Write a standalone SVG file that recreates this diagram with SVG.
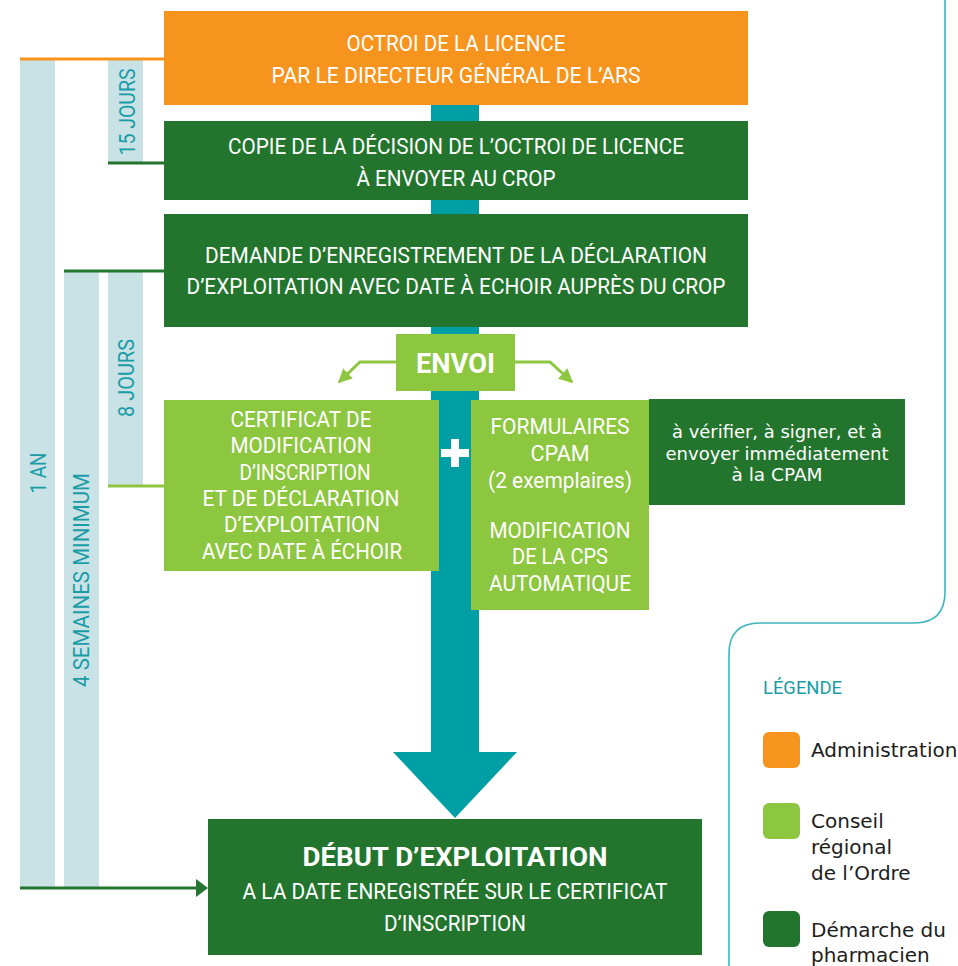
<svg xmlns="http://www.w3.org/2000/svg" width="958" height="966" viewBox="0 0 958 966">
  <defs>
    <style>
      .din { font-family: Roboto, "Open Sans", "Liberation Sans", sans-serif; font-size: 22px; fill: #ffffff; text-anchor: middle; }
      .din-b { font-family: Roboto, "Open Sans", "Liberation Sans", sans-serif; font-weight: 700; fill: #ffffff; text-anchor: middle; }
      .vlab { font-family: Roboto, "Open Sans", "Liberation Sans", sans-serif; font-size: 22px; fill: #1A9CA6; text-anchor: middle; }
      .note { font-family: "DejaVu Sans", Verdana, sans-serif; font-size: 18px; fill: #ffffff; text-anchor: middle; }
      .leg { font-family: "DejaVu Sans", Verdana, sans-serif; font-size: 20px; fill: #1d1d1b; }
      .orange { fill: #F7941D; }
      .dark { fill: #23752E; }
      .light { fill: #8DC63F; }
      .bar { fill: #C9E2E6; }
      .teal { fill: #009FA6; }
    </style>
    <marker id="tipLight" viewBox="0 0 10 10" refX="9" refY="5" markerWidth="14" markerHeight="14" markerUnits="userSpaceOnUse" orient="auto">
      <path d="M0,0 L10,5 L0,10 z" fill="#8DC63F"/>
    </marker>
  </defs>

  <!-- frame lines -->
  <path d="M945,0 V592 Q945,623 914,623 H760 Q729,623 729,654 V966" fill="none" stroke="#3DB5BD" stroke-width="1.6"/>

  <!-- duration bars -->
  <g id="durations">
    <rect class="bar" x="20" y="59" width="35" height="829"/>
    <rect class="bar" x="108" y="59" width="35" height="104"/>
    <rect class="bar" x="64" y="271" width="35" height="617"/>
    <rect class="bar" x="108" y="271" width="35" height="215"/>
    <text class="vlab" transform="translate(135,112) rotate(-90)" textLength="87" lengthAdjust="spacingAndGlyphs">15 JOURS</text>
    <text class="vlab" transform="translate(134,378) rotate(-90)" textLength="78" lengthAdjust="spacingAndGlyphs">8 JOURS</text>
    <text class="vlab" transform="translate(89,580) rotate(-90)" textLength="214" lengthAdjust="spacingAndGlyphs">4 SEMAINES MINIMUM</text>
    <text class="vlab" transform="translate(46,473) rotate(-90)" textLength="41" lengthAdjust="spacingAndGlyphs">1 AN</text>
  </g>

  <!-- connectors -->
  <g id="connectors">
    <rect class="teal" x="431" y="105" width="48" height="647"/>
    <polygon class="teal" points="393,752 517,752 455,818"/>
    <line x1="20" y1="59" x2="164" y2="59" stroke="#F7941D" stroke-width="3"/>
    <line x1="108" y1="163" x2="164" y2="163" stroke="#23752E" stroke-width="3"/>
    <line x1="64" y1="271" x2="164" y2="271" stroke="#23752E" stroke-width="3"/>
    <line x1="108" y1="486" x2="164" y2="486" stroke="#8DC63F" stroke-width="3"/>
    <line x1="20" y1="888" x2="198" y2="888" stroke="#23752E" stroke-width="3"/>
    <polygon points="196,879 208,888 196,897" fill="#23752E"/>
    <polyline points="396,362 360,362 339,382" fill="none" stroke="#8DC63F" stroke-width="3" marker-end="url(#tipLight)"/>
    <polyline points="515,362 550,362 572,382" fill="none" stroke="#8DC63F" stroke-width="3" marker-end="url(#tipLight)"/>
  </g>

  <g id="octroi">
    <rect class="orange" x="164" y="11" width="584" height="94"/>
    <text class="din" x="456" y="51" textLength="219" lengthAdjust="spacingAndGlyphs">OCTROI DE LA LICENCE</text>
    <text class="din" x="456" y="83" textLength="369" lengthAdjust="spacingAndGlyphs">PAR LE DIRECTEUR GÉNÉRAL DE L’ARS</text>
  </g>

  <g id="copie">
    <rect class="dark" x="164" y="121" width="584" height="79"/>
    <text class="din" x="456" y="154" textLength="456" lengthAdjust="spacingAndGlyphs">COPIE DE LA DÉCISION DE L’OCTROI DE LICENCE</text>
    <text class="din" x="456" y="186" textLength="199" lengthAdjust="spacingAndGlyphs">À ENVOYER AU CROP</text>
  </g>

  <g id="demande">
    <rect class="dark" x="164" y="214" width="584" height="113"/>
    <text class="din" x="456" y="263" textLength="502" lengthAdjust="spacingAndGlyphs">DEMANDE D’ENREGISTREMENT DE LA DÉCLARATION</text>
    <text class="din" x="456" y="294" textLength="539" lengthAdjust="spacingAndGlyphs">D’EXPLOITATION AVEC DATE À ECHOIR AUPRÈS DU CROP</text>
  </g>

  <g id="envoi">
    <rect class="light" x="396" y="334" width="119" height="57"/>
    <text class="din-b" x="455.5" y="373" font-size="28" textLength="79" lengthAdjust="spacingAndGlyphs">ENVOI</text>
  </g>

  <g id="certificat">
    <rect class="light" x="164" y="400" width="275" height="171"/>
    <text class="din" x="301" y="427" textLength="141" lengthAdjust="spacingAndGlyphs">CERTIFICAT DE</text>
    <text class="din" x="301" y="453" textLength="141" lengthAdjust="spacingAndGlyphs">MODIFICATION</text>
    <text class="din" x="305" y="480" textLength="131" lengthAdjust="spacingAndGlyphs">D’INSCRIPTION</text>
    <text class="din" x="301" y="506" textLength="197" lengthAdjust="spacingAndGlyphs">ET DE DÉCLARATION</text>
    <text class="din" x="302" y="532" textLength="156" lengthAdjust="spacingAndGlyphs">D’EXPLOITATION</text>
    <text class="din" x="302" y="559" textLength="200" lengthAdjust="spacingAndGlyphs">AVEC DATE À ÉCHOIR</text>
  </g>

  <g id="plus">
    <rect x="441" y="449" width="28" height="8" fill="#ffffff"/>
    <rect x="451" y="439" width="8" height="28" fill="#ffffff"/>
  </g>

  <g id="formulaires">
    <rect class="light" x="471" y="400" width="178" height="210"/>
    <text class="din" x="560" y="434" textLength="139" lengthAdjust="spacingAndGlyphs">FORMULAIRES</text>
    <text class="din" x="560" y="461" textLength="59" lengthAdjust="spacingAndGlyphs">CPAM</text>
    <text class="din" x="560" y="488" textLength="144" lengthAdjust="spacingAndGlyphs">(2 exemplaires)</text>
    <text class="din" x="560" y="538" textLength="141" lengthAdjust="spacingAndGlyphs">MODIFICATION</text>
    <text class="din" x="560" y="564" textLength="96" lengthAdjust="spacingAndGlyphs">DE LA CPS</text>
    <text class="din" x="560" y="591" textLength="142" lengthAdjust="spacingAndGlyphs">AUTOMATIQUE</text>
  </g>

  <g id="verification">
    <rect class="dark" x="649" y="399" width="256" height="106"/>
    <text class="note" x="777" y="438" textLength="210" lengthAdjust="spacingAndGlyphs">à vérifier, à signer, et à</text>
    <text class="note" x="777" y="460" textLength="223" lengthAdjust="spacingAndGlyphs">envoyer immédiatement</text>
    <text class="note" x="777" y="481" textLength="91" lengthAdjust="spacingAndGlyphs">à la CPAM</text>
  </g>

  <g id="debut">
    <rect class="dark" x="208" y="819" width="494" height="136"/>
    <text class="din-b" x="455" y="866" font-size="25" textLength="305" lengthAdjust="spacingAndGlyphs">DÉBUT D’EXPLOITATION</text>
    <text class="din" x="455" y="899" textLength="425" lengthAdjust="spacingAndGlyphs">A LA DATE ENREGISTRÉE SUR LE CERTIFICAT</text>
    <text class="din" x="455" y="931" textLength="142" lengthAdjust="spacingAndGlyphs">D’INSCRIPTION</text>
  </g>

  <g id="legende">
    <text x="763" y="694" font-family="Roboto, 'Open Sans', 'Liberation Sans', sans-serif" font-size="18" fill="#1A9CA6" textLength="79" lengthAdjust="spacingAndGlyphs">LÉGENDE</text>
    <rect class="orange" x="763" y="732" width="37" height="36" rx="6"/>
    <text class="leg" x="811" y="757">Administration</text>
    <rect class="light" x="763" y="803" width="37" height="36" rx="6"/>
    <text class="leg" x="811" y="828">Conseil</text>
    <text class="leg" x="811" y="854">régional</text>
    <text class="leg" x="811" y="880">de l’Ordre</text>
    <rect class="dark" x="763" y="911" width="37" height="36" rx="6"/>
    <text class="leg" x="811" y="937">Démarche du</text>
    <text class="leg" x="811" y="962">pharmacien</text>
  </g>
</svg>
